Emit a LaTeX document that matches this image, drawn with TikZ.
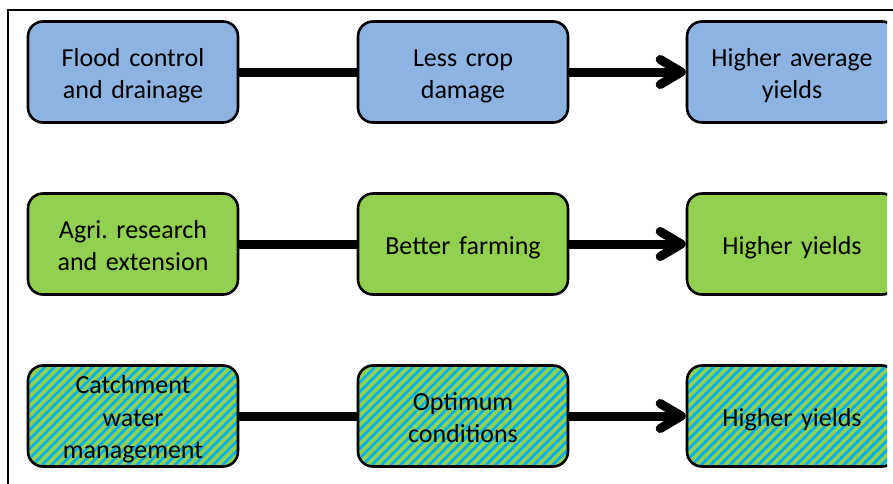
\documentclass[tikz,border=0pt]{standalone}
\usepackage{fontspec}
\setmainfont{Carlito}
\usetikzlibrary{arrows.meta}

\definecolor{boxblue}{HTML}{8DB3E2}
\definecolor{boxgreen}{HTML}{92D050}
\definecolor{stripeblue}{HTML}{00B0F0}

\tikzset{
  stage/.style={draw=black, line width=2.6pt, rounded corners=15pt,
    minimum width=210pt, minimum height=101pt, text width=200pt,
    align=center, inner sep=0pt,
    font=\fontsize{26pt}{32.5pt}\selectfont,
    % give every line the same ascent and descent
    execute at begin node={\rule{0pt}{26.5pt}},
    execute at end node={\rule[-6pt]{0pt}{6pt}}},
  bluebox/.style={stage, fill=boxblue},
  greenbox/.style={stage, fill=boxgreen},
  % diagonal blue stripes on green
  stripebox/.style={stage, fill=boxgreen,
    path picture={
      \foreach \k in {0,...,38}{
        \pgfmathsetmacro{\sx}{\k*9.5-130}
        \draw[stripeblue, line width=2.8pt]
          ([xshift=\sx pt]path picture bounding box.south west)
          -- ++(140pt,140pt);
      }
    }},
  link/.style={line width=9pt, black},
  arrowlink/.style={link, -{Straight Barb[length=21pt, width=25pt,
    line cap=round, line join=round]}},
  frame/.style={line width=2pt, black}
}

\begin{document}
\begin{tikzpicture}[x=1pt, y=-1pt]
  \clip (0,0) rectangle (893,483);
  \fill[white] (0,0) rectangle (893,483);

  % outer frame (only its left and top sides fall inside the view)
  \draw[frame] (8,500) -- (8,10) -- (910,10) -- (910,500);

  \begin{scope}
  \clip (0,12) rectangle (887,483);

  % row 1: flood control
  \node[bluebox] (a1) at (133,72) {Flood control\\and drainage};
  \node[bluebox] (a2) at (463,72) {Less crop\\damage};
  \node[bluebox] (a3) at (792,72) {Higher average\\yields};

  % row 2: agricultural research
  \node[greenbox] (b1) at (133,244) {Agri.\ research\\and extension};
  \node[greenbox] (b2) at (463,244) {Better farming};
  \node[greenbox] (b3) at (792,244) {Higher yields};

  % row 3: catchment management
  \node[stripebox] (c1) at (133,416) {Catchment\\water\\management};
  \node[stripebox] (c2) at (463,416) {Optimum\\conditions};
  \node[stripebox] (c3) at (792,416) {Higher yields};

  % connectors
  \draw[link] (a1) -- (a2);
  \draw[arrowlink] (a2) -- (a3);
  \draw[link] (b1) -- (b2);
  \draw[arrowlink] (b2) -- (b3);
  \draw[link] (c1) -- (c2);
  \draw[arrowlink] (c2) -- (c3);
  \end{scope}
\end{tikzpicture}
\end{document}
